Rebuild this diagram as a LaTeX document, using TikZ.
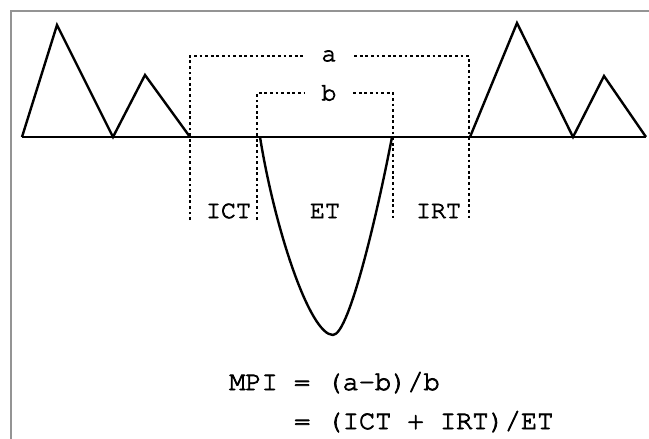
\documentclass[tikz,border=0pt]{standalone}
\usepackage{fontspec}
\setmonofont{texgyrecursor-regular.otf}[FakeBold=2.8]
\begin{document}
\begin{tikzpicture}[x=1pt,y=-1pt,
  solidln/.style={line width=2.4pt, line join=miter},
  dotln/.style={line width=1.3pt, dash pattern=on 2.8pt off 2.8pt},
  framel/.style={draw=black!42, line width=2.2pt},
  lbl/.style={font=\ttfamily\fontsize{25}{25}\selectfont, inner sep=0pt},
  brk/.style={font=\ttfamily\fontsize{25}{25}\selectfont, inner sep=0pt},
  eqn/.style={font=\ttfamily\fontsize{27}{27}\selectfont, inner sep=0pt, anchor=base west}]
\useasboundingbox (0,0) rectangle (649,439);
\fill[white] (0,0) rectangle (649,439);
% frame
\draw[framel] (11,439) -- (11,11) -- (649,11);
% baseline points
\coordinate (p0) at (22,137);
\coordinate (t1) at (57,25);
\coordinate (p1) at (113,137);
\coordinate (t2) at (145,75);
\coordinate (p2) at (190,137);
\coordinate (c1) at (260,137);
\coordinate (cb) at (333,335);
\coordinate (c2) at (392,137);
\coordinate (p3) at (470,137);
\coordinate (t3) at (517,23);
\coordinate (p4) at (573,137);
\coordinate (t4) at (604,76);
\coordinate (p5) at (646,137);
% labels on brackets
\node[brk, minimum width=50pt, minimum height=14pt] (a) at (329,56) {a};
\node[brk, minimum width=48pt, minimum height=16pt] (b) at (329,93) {b};
% dotted brackets
\coordinate (aL) at (190,56);
\coordinate (aR) at (469,56);
\coordinate (aLb) at (190,220);
\coordinate (aRb) at (469,220);
\coordinate (bL) at (257,93);
\coordinate (bR) at (393,93);
\coordinate (bLb) at (257,220);
\coordinate (bRb) at (393,220);
\draw[dotln] (aLb) -- (aL) -- (a.west);
\draw[dotln] (a.east) -- (aR) -- (aRb);
\draw[dotln] (bLb) -- (bL) -- (b.west);
\draw[dotln] (b.east) -- (bR) -- (bRb);
% baseline and peaks
\draw[solidln] (p0) -- (p5);
\draw[solidln] (p0) -- (t1) -- (p1) -- (t2) -- (p2);
\draw[solidln] (p3) -- (t3) -- (p4) -- (t4) -- (p5);
% ejection curve
\draw[solidln, line join=round] (c1) .. controls (275,230) and (310,335) .. (cb)
   .. controls (350,335) and (380,200) .. (c2);
% interval labels
\node[lbl] (ict) at (228.5,211) {ICT};
\node[lbl] (et) at (325,211) {ET};
\node[lbl] (irt) at (438.5,211) {IRT};
% formulas
\node[eqn] (f1) at (229,390) {MPI = (a-b)/b};
\node[eqn] (f2) at (294,429) {= (ICT + IRT)/ET};
\end{tikzpicture}
\end{document}
